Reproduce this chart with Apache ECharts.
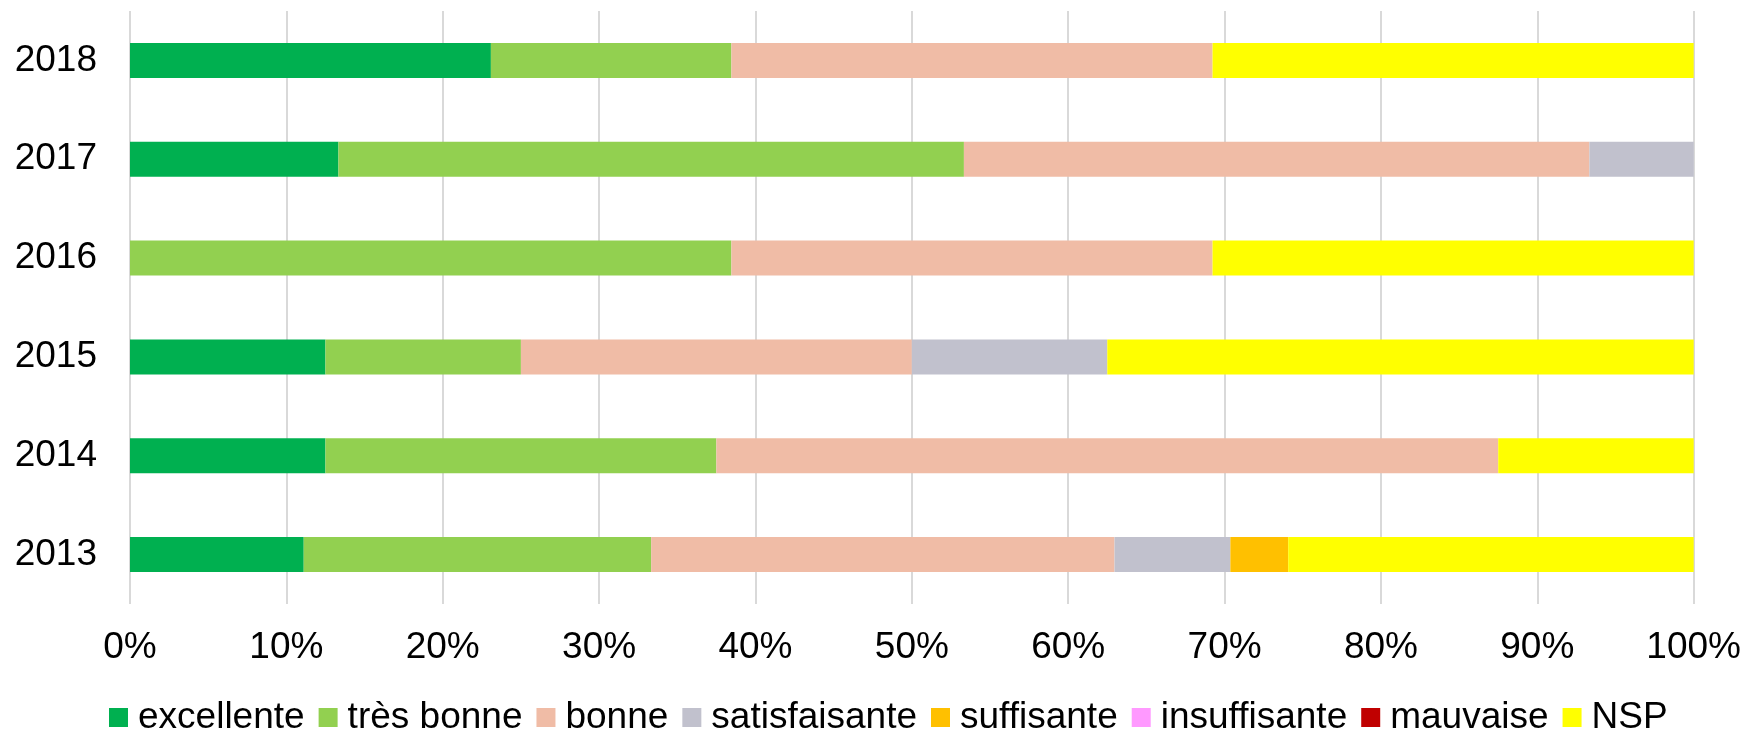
<!DOCTYPE html>
<html>
<head>
    <meta charset="utf-8" />
    <title>Appréciation par année</title>
    <script src="https://cdn.jsdelivr.net/npm/echarts@6/dist/echarts.min.js"></script>
    <style>
        html, body { margin: 0; padding: 0; background: #fff; }
        #container { width: 1744px; height: 730px; }
    </style>
</head>
<body>
<div id="container"></div>
<script type="text/javascript">
    // années (de bas en haut)
    var years = ['2013', '2014', '2015', '2016', '2017', '2018'];

    // parts en % par catégorie, dans l'ordre des années
    var excellente    = [11.11, 12.5, 12.5, 0, 13.33, 23.08];
    var tresBonne     = [22.22, 25, 12.5, 38.46, 40, 15.38];
    var bonne         = [29.63, 50, 25, 30.77, 40, 30.77];
    var satisfaisante = [7.41, 0, 12.5, 0, 6.67, 0];
    var suffisante    = [3.70, 0, 0, 0, 0, 0];
    var insuffisante  = [0, 0, 0, 0, 0, 0];
    var mauvaise      = [0, 0, 0, 0, 0, 0];
    var nsp           = [25.93, 12.5, 37.5, 30.77, 0, 30.77];

    var xTicks = [0, 10, 20, 30, 40, 50, 60, 70, 80, 90, 100];

    var seriesDef = [
        ['excellente', excellente, '#00B050'],
        ['très bonne', tresBonne, '#92D050'],
        ['bonne', bonne, '#F0BCA6'],
        ['satisfaisante', satisfaisante, '#C1C1CD'],
        ['suffisante', suffisante, '#FFC000'],
        ['insuffisante', insuffisante, '#FF99FF'],
        ['mauvaise', mauvaise, '#C00000'],
        ['NSP', nsp, '#FFFF00']
    ];

    var font = 'Liberation Sans, Arial, sans-serif';

    var myChart = echarts.init(document.getElementById('container'));
    var option = {
        animation: false,
        grid: { left: 130, right: 50, top: 11, bottom: 126 },
        legend: {
            top: 694,
            left: 104,
            itemWidth: 19,
            itemHeight: 19,
            itemGap: 14,
            icon: 'rect',
            textStyle: { fontSize: 37, color: '#000', fontFamily: font, padding: [0, 0, 0, 5] },
            data: seriesDef.map(function (s) { return s[0]; })
        },
        xAxis: {
            type: 'value',
            min: xTicks[0],
            max: xTicks[xTicks.length - 1],
            interval: 10,
            axisLine: { show: false },
            axisTick: { show: false },
            splitLine: { lineStyle: { color: '#D9D9D9', width: 2 } },
            axisLabel: {
                fontSize: 37, color: '#000', fontFamily: font, margin: 25,
                formatter: function (v) { return v + '%'; }
            }
        },
        yAxis: {
            type: 'category',
            data: years,
            axisLine: { show: false },
            axisTick: { show: false },
            axisLabel: { fontSize: 37, color: '#000', fontFamily: font, margin: 33 }
        },
        series: seriesDef.map(function (s) {
            return {
                name: s[0],
                type: 'bar',
                stack: 'total',
                barWidth: 35,
                data: s[1],
                itemStyle: { color: s[2] }
            };
        })
    };
    myChart.setOption(option, true);
</script>
</body>
</html>
